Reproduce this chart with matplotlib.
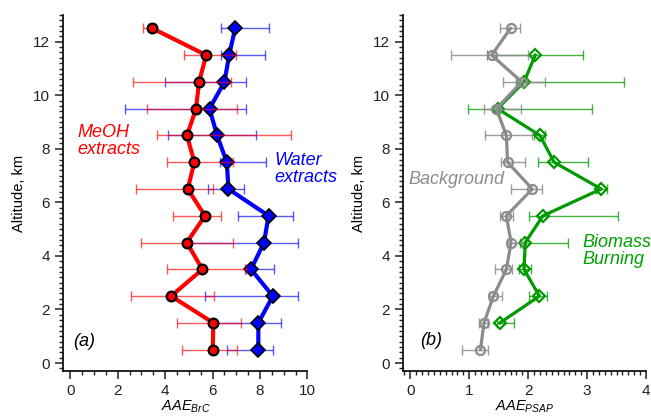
import matplotlib.pyplot as plt
import numpy as np
from matplotlib.ticker import MultipleLocator

plt.rcParams['font.family'] = ['Liberation Sans', 'DejaVu Sans']
plt.rcParams['mathtext.fontset'] = 'custom'
plt.rcParams['mathtext.it'] = 'Liberation Sans:italic'
plt.rcParams['mathtext.rm'] = 'Liberation Sans'

# altitude bins (km)
alt = [0.5, 1.5, 2.5, 3.5, 4.5, 5.5, 6.5, 7.5, 8.5, 9.5, 10.5, 11.5, 12.5]

# panel (a): AAE of BrC
meoh = [6.01, 6.03, 4.25, 5.57, 4.91, 5.68, 4.95, 5.23, 4.92, 5.30, 5.43, 5.73, 3.46]
meoh_lo = [4.70, 4.51, 2.57, 4.09, 2.97, 4.35, 2.76, 4.09, 3.67, 3.22, 2.64, 4.78, 3.05]
meoh_hi = [7.03, 7.20, 6.06, 7.40, 6.87, 6.35, 6.03, 6.88, 9.31, 7.02, 6.78, 7.00, 3.60]
water = [7.93, 7.93, 8.54, 7.62, 8.17, 8.36, 6.67, 6.60, 6.19, 5.87, 6.50, 6.70, 6.95]
water_lo = [6.60, 6.05, 5.68, 7.35, 5.00, 7.06, 5.82, 6.30, 4.11, 2.29, 4.01, 6.35, 6.37]
water_hi = [8.54, 8.89, 9.62, 8.60, 9.60, 9.38, 7.33, 8.24, 7.82, 7.41, 7.41, 8.23, 8.37]

# panel (b): AAE from PSAP
bg = [1.19, 1.25, 1.41, 1.63, 1.71, 1.63, 2.07, 1.65, 1.63, 1.46, 1.89, 1.38, 1.70]
bg_lo = [0.88, 1.17, 1.33, 1.44, 1.64, 1.52, 1.70, 1.54, 1.27, 1.25, 1.57, 0.69, 1.52]
bg_hi = [1.31, 1.31, 1.55, 1.72, 1.89, 1.74, 2.24, 1.95, 2.07, 1.88, 2.28, 1.99, 1.86]
bb_alt = [1.5, 2.5, 3.5, 4.5, 5.5, 6.5, 7.5, 8.5, 9.5, 10.5, 11.5]
bb = [1.52, 2.19, 1.93, 1.95, 2.25, 3.24, 2.44, 2.20, 1.48, 1.93, 2.12]
bb_lo = [1.47, 2.01, 1.84, 1.86, 2.02, 3.15, 2.16, 2.10, 0.97, 1.80, 1.30]
bb_hi = [1.76, 2.32, 2.05, 2.67, 3.52, 3.33, 3.01, 2.29, 3.09, 3.62, 2.93]


def xerr(v, lo, hi):
    v = np.asarray(v)
    return [v - np.asarray(lo), np.asarray(hi) - v]


def style(ax, xmaj, xmin):
    for s in ['top', 'right']:
        ax.spines[s].set_visible(False)
    for s in ['left', 'bottom']:
        ax.spines[s].set_linewidth(1.2)
    ax.set_ylim(-0.3, 13)
    ax.yaxis.set_major_locator(MultipleLocator(2))
    ax.yaxis.set_minor_locator(MultipleLocator(0.2))
    ax.xaxis.set_major_locator(MultipleLocator(xmaj))
    ax.xaxis.set_minor_locator(MultipleLocator(xmin))
    ax.tick_params(which='major', direction='out', length=6, width=1.1, labelsize=11, colors='#222222')
    ax.tick_params(which='minor', direction='out', length=3, width=1.0, colors='#222222')
    ax.set_ylabel('Altitude, km', fontsize=10.5, labelpad=5)


fig = plt.figure(figsize=(6.51, 4.16), dpi=100)
ax1 = fig.add_axes([0.0972, 0.108, 0.375, 0.856])
ax2 = fig.add_axes([0.6195, 0.108, 0.3728, 0.856])

# (a)
ax1.errorbar(water, alt, xerr=xerr(water, water_lo, water_hi), fmt='none', ecolor='#0000FF',
             alpha=0.65, elinewidth=1, capsize=3.5, capthick=1, zorder=1)
ax1.plot(water, alt, '-D', color='#0000FF', lw=3, ms=7, mfc='#0000FF', mec='black', mew=1.2, zorder=2)
ax1.errorbar(meoh, alt, xerr=xerr(meoh, meoh_lo, meoh_hi), fmt='none', ecolor='#FF0000',
             alpha=0.65, elinewidth=1, capsize=3.5, capthick=1, zorder=3)
ax1.plot(meoh, alt, '-o', color='#FF0000', lw=3, ms=7, mfc='#FF0000', mec='black', mew=1.6, zorder=4)
ax1.set_xlim(-0.3, 10)
style(ax1, 2, 0.5)
ax1.set_xlabel('$AAE_{BrC}$', fontsize=10.5, labelpad=0)
ax1.text(0.3, 8.3, 'MeOH\nextracts', color='#FF0000', fontsize=13, style='italic',
         ha='left', va='center', linespacing=1.0)
ax1.text(8.62, 7.25, 'Water\nextracts', color='#0000FF', fontsize=13, style='italic',
         ha='left', va='center', linespacing=1.0)
ax1.text(0.13, 0.8, '(a)', fontsize=13, style='italic', ha='left', va='center')

# (b)
ax2.errorbar(bb, bb_alt, xerr=xerr(bb, bb_lo, bb_hi), fmt='none', ecolor='#009900',
             alpha=0.75, elinewidth=1, capsize=3.5, capthick=1, zorder=1)
ax2.plot(bb, bb_alt, '-D', color='#009900', lw=2.3, ms=6, mfc='none', mec='#009900', mew=1.6, zorder=2)
ax2.errorbar(bg, alt, xerr=xerr(bg, bg_lo, bg_hi), fmt='none', ecolor='#8C8C8C',
             alpha=0.85, elinewidth=1, capsize=3.5, capthick=1, zorder=3)
ax2.plot(bg, alt, '-o', color='#8C8C8C', lw=2.3, ms=6.5, mfc='none', mec='#8C8C8C', mew=1.6, zorder=4)
ax2.set_xlim(-0.12, 4)
style(ax2, 1, 0.1)
ax2.set_xlabel('$AAE_{PSAP}$', fontsize=10.5, labelpad=0)
ax2.text(-0.03, 6.84, 'Background', color='#8C8C8C', fontsize=13, style='italic',
         ha='left', va='center')
ax2.text(2.92, 4.2, 'Biomass\nBurning', color='#00A000', fontsize=13, style='italic',
         ha='left', va='center', linespacing=1.0)
ax2.text(0.17, 0.85, '(b)', fontsize=13, style='italic', ha='left', va='center')

fig.savefig('out.png', dpi=100)
